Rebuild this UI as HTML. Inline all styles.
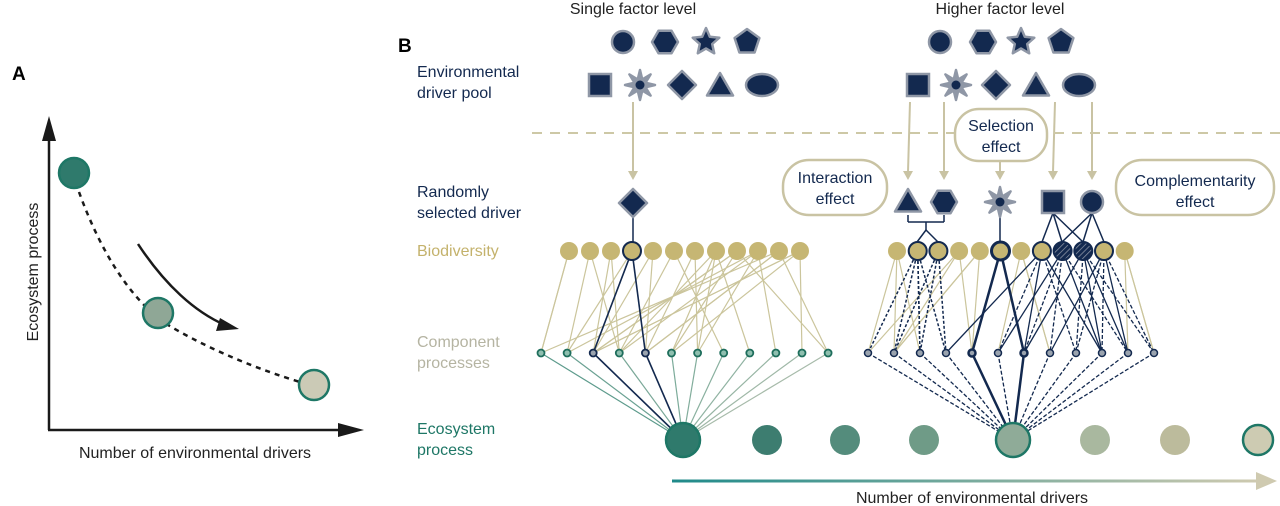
<!DOCTYPE html>
<html><head><meta charset="utf-8"><style>
html,body{margin:0;padding:0;background:#fff;}
svg{display:block;font-family:"Liberation Sans",Arial,sans-serif;}
</style></head><body>
<svg id="s" width="1280" height="506" viewBox="0 0 1280 506" xmlns="http://www.w3.org/2000/svg">
<defs>
<linearGradient id="ga" gradientUnits="userSpaceOnUse" x1="672" y1="0" x2="1260" y2="0"><stop offset="0" stop-color="#1f8a8a"/><stop offset="1" stop-color="#cfcab0"/></linearGradient>
<pattern id="hatch" width="4" height="4" patternUnits="userSpaceOnUse" patternTransform="rotate(45)"><rect width="4" height="4" fill="#13294f"/><line x1="0" y1="0" x2="0" y2="4" stroke="#8f97a6" stroke-width="1.5"/></pattern>
</defs>
<g id="lines"></g>
<!-- Panel A -->
<text x="12" y="80" font-size="19" font-weight="bold">A</text>
<line x1="49" y1="430" x2="49" y2="135" stroke="#1a1a1a" stroke-width="2.5"/>
<polygon points="49,116 42,141 56,141" fill="#1a1a1a"/>
<line x1="48" y1="430" x2="345" y2="430" stroke="#1a1a1a" stroke-width="2.5"/>
<polygon points="364,430 338,423 338,437" fill="#1a1a1a"/>
<path d="M79,192 C100,250 130,300 168,325 C210,350 260,370 300,382" fill="none" stroke="#1a1a1a" stroke-width="2.5" stroke-dasharray="5,5"/>
<path d="M138,244 C165,285 195,312 225,325" fill="none" stroke="#1a1a1a" stroke-width="2.5"/>
<polygon points="239,329 220,318 216,331" fill="#1a1a1a"/>
<circle cx="74" cy="173" r="15" fill="#2f7a6c" stroke="#1e7766" stroke-width="2.5"/>
<circle cx="158" cy="313" r="15" fill="#8fa796" stroke="#1e7766" stroke-width="2.5"/>
<circle cx="314" cy="385" r="15" fill="#cbcab6" stroke="#1e7766" stroke-width="2.5"/>
<text transform="translate(38,272) rotate(-90)" text-anchor="middle" font-size="16" fill="#222">Ecosystem process</text>
<text x="195" y="458" text-anchor="middle" font-size="16" fill="#222">Number of environmental drivers</text>
<!-- Panel B -->
<text x="398" y="52" font-size="19" font-weight="bold">B</text>
<text x="633" y="14" text-anchor="middle" font-size="16" fill="#222">Single factor level</text>
<text x="1000" y="14" text-anchor="middle" font-size="16" fill="#222">Higher factor level</text>
<g font-size="16" fill="#13294f">
<text x="417" y="77">Environmental</text><text x="417" y="98">driver pool</text>
<text x="417" y="197">Randomly</text><text x="417" y="218">selected driver</text>
</g>
<text x="417" y="256" font-size="16" fill="#c4b26c">Biodiversity</text>
<text x="417" y="347" font-size="16" fill="#b5b4a2">Component</text>
<text x="417" y="368" font-size="16" fill="#b5b4a2">processes</text>
<text x="417" y="434" font-size="16" fill="#1e7766">Ecosystem</text>
<text x="417" y="455" font-size="16" fill="#1e7766">process</text>
<line x1="532" y1="133" x2="1280" y2="133" stroke="#cdc8a6" stroke-width="2" stroke-dasharray="10,8"/>
<g id="shapes"></g>
<g fill="#fff" stroke="#c9c3a3" stroke-width="2.5">
<rect x="955" y="109" width="92" height="52" rx="24"/>
<rect x="783" y="160" width="104" height="55" rx="26"/>
<rect x="1116" y="160" width="158" height="55" rx="26"/>
</g>
<g font-size="16" fill="#13294f" text-anchor="middle">
<text x="1001" y="131">Selection</text><text x="1001" y="152">effect</text>
<text x="835" y="183">Interaction</text><text x="835" y="204">effect</text>
<text x="1195" y="186">Complementarity</text><text x="1195" y="207">effect</text>
</g>
<rect x="672" y="479.5" width="588" height="3" fill="url(#ga)"/>
<polygon points="1277,481 1256,472 1256,490" fill="#cfcab0"/>
<text x="972" y="503" text-anchor="middle" font-size="16" fill="#222">Number of environmental drivers</text>
<g id="nodes"></g>
</svg>
<script>
var NS="http://www.w3.org/2000/svg";
function el(p,t,a){var e=document.createElementNS(NS,t);for(var k in a)e.setAttribute(k,a[k]);document.getElementById(p).appendChild(e);return e;}
var N="#13294f",G="#8f97a6";
function poly(p,cx,cy,n,r,rot,r2,fill){var pts=[];var m=r2?2*n:n;for(var i=0;i<m;i++){var a=rot+i*2*Math.PI/m;var rr=(r2&&i%2)?r2:r;pts.push((cx+rr*Math.cos(a)).toFixed(1)+","+(cy+rr*Math.sin(a)).toFixed(1));}el(p,"polygon",{points:pts.join(" "),fill:fill||N,stroke:G,"stroke-width":2.5,"stroke-linejoin":"round"});}
function shape(t,x,y){var p="shapes";
 if(t=="c")el(p,"circle",{cx:x,cy:y,r:11,fill:N,stroke:G,"stroke-width":2.5});
 if(t=="h")poly(p,x,y,6,13,0);
 if(t=="st")poly(p,x,y,5,14,-Math.PI/2,6.5);
 if(t=="p")poly(p,x,y,5,13,-Math.PI/2);
 if(t=="sq")el(p,"rect",{x:x-11,y:y-11,width:22,height:22,fill:N,stroke:G,"stroke-width":2.5});
 if(t=="s8"){poly(p,x,y,8,15,-Math.PI/2,6,G);el(p,"circle",{cx:x,cy:y,r:4.5,fill:N});}
 if(t=="d")poly(p,x,y,4,14,0);
 if(t=="t")poly(p,x,y+3,3,15,-Math.PI/2);
 if(t=="e")el(p,"ellipse",{cx:x,cy:y,rx:16,ry:11,fill:N,stroke:G,"stroke-width":2.5});
}
[["c",623],["h",665],["st",706],["p",747],["c",940],["h",983],["st",1021],["p",1061]].forEach(function(s){shape(s[0],s[1],42)});
[["sq",600],["s8",640],["d",682],["t",720],["e",762],["sq",918],["s8",956],["d",996],["t",1036],["e",1079]].forEach(function(s){shape(s[0],s[1],85)});
function arr(x1,y1,x2,y2){el("lines","line",{x1:x1,y1:y1,x2:x2,y2:y2-8,stroke:"#c9c3a3","stroke-width":2});el("lines","polygon",{points:(x2-5)+","+(y2-9)+" "+(x2+5)+","+(y2-9)+" "+x2+","+y2,fill:"#c9c3a3"});}
arr(633,102,633,180);arr(910,102,908,180);arr(944,102,944,180);arr(1000,162,1000,180);arr(1055,102,1053,180);arr(1092,102,1092,180);
shape("d",633,203);shape("t",908,201);shape("h",944,202);shape("s8",1000,202);shape("sq",1053,202);shape("c",1092,202);
function ln(x1,y1,x2,y2,c,w,d){var a={x1:x1,y1:y1,x2:x2,y2:y2,stroke:c,"stroke-width":w};if(d)a["stroke-dasharray"]=d;el("lines","line",a);}
ln(633,217,633,242,N,1.5);ln(1000,216,1000,242,N,1.5);
ln(908,215,908,222,N,1.5);ln(908,222,944,222,N,1.5);ln(944,215,944,222,N,1.5);ln(926,222,926,230,N,1.5);
ln(926,230,917,242,N,1.5);ln(926,230,938,242,N,1.5);
ln(1053,213,1042,242,N,1.5);ln(1053,213,1062,242,N,1.5);ln(1053,213,1083,242,N,1.5);ln(1092,213,1062,242,N,1.5);ln(1092,213,1083,242,N,1.5);ln(1092,213,1104,242,N,1.5);
var bl=[],br=[],cl=[],cr=[];
for(var i=0;i<12;i++){bl.push(569+i*21);br.push(897+i*20.7);cl.push(541+i*26.1);cr.push(868+i*26);}
var BY=251,CY=353,EY=440;
var seed=7;function rnd(){seed=(seed*9301+49297)%233280;return seed/233280;}
var beige="#cbc59c";
for(var i=0;i<12;i++){var k=i<7?2:4;for(var j=0;j<k;j++){var c=Math.floor(rnd()*12);if(i<7)c=Math.max(0,Math.min(11,i+Math.floor(rnd()*5)-2));ln(bl[i],BY,cl[c],CY,beige,1.2);}}
ln(bl[3],BY,cl[2],CY,N,1.6);ln(bl[3],BY,cl[4],CY,N,1.6);
[0,3,4,6,11].forEach(function(i){for(var j=0;j<3;j++){var c=Math.max(0,Math.min(11,i+Math.floor(rnd()*7)-3));ln(br[i],BY,cr[c],CY,beige,1.2);}});
[[1,0],[1,1],[1,2],[1,3],[2,1],[2,2],[2,3],[1,2]].forEach(function(p){ln(br[p[0]],BY,cr[p[1]],CY,N,1.5,"3,2");});
ln(br[5],BY,cr[4],CY,N,2.5);ln(br[5],BY,cr[6],CY,N,2.5);
[[7,3],[7,5],[7,6],[7,8],[8,5],[8,7],[8,9],[8,10],[9,6],[9,8],[9,9],[9,11],[10,7],[10,9],[10,10],[10,11],[7,9],[8,6],[9,10],[10,8]].forEach(function(p,n){ln(br[p[0]],BY,cr[p[1]],CY,N,1.3,n%2?"4,2":null);});
var tc=["#5d9b8c","#6aa192","#8aa59a","#7aa898","#8aa59a","#7cab9a","#82ad9c","#89b09f","#90b3a2","#97b5a4","#9fb8a7","#a7bbaa"];
for(var i=0;i<12;i++){ln(cl[i],CY,683,EY,i==2||i==4?N:tc[i],i==2||i==4?1.6:1.2);}
for(var i=0;i<12;i++){ln(cr[i],CY,1013,EY,N,i==4||i==6?2.5:1.3,(i!=4&&i!=6)?"4,2":null);}
var bc="#c6b673";
for(var i=0;i<12;i++){var s=i==3;el("nodes","circle",{cx:bl[i],cy:BY,r:9,fill:bc,stroke:s?N:"none","stroke-width":2});}
for(var i=0;i<12;i++){var f=(i==8||i==9)?"url(#hatch)":bc;var st=[1,2,5,7,8,9,10].indexOf(i)>=0;el("nodes","circle",{cx:br[i],cy:BY,r:9,fill:f,stroke:st?N:"none","stroke-width":i==5?3:2});}
for(var i=0;i<12;i++){var d=i==2||i==4;el("nodes","circle",{cx:cl[i],cy:CY,r:3.5,fill:d?"#9aa3ae":"#8fbfaf",stroke:d?N:"#1e6e5c","stroke-width":1.8});}
for(var i=0;i<12;i++){var d=i==4||i==6;el("nodes","circle",{cx:cr[i],cy:CY,r:3.5,fill:"#9aa3ae",stroke:N,"stroke-width":d?2.5:1.5});}
[[683,17,"#2f7a6c",1],[767,15,"#3d7d70",0],[845,15,"#548c7c",0],[924,15,"#6f9b87",0],[1013,17,"#8fab98",1],[1095,15,"#a9b89f",0],[1175,15,"#bcbb9c",0],[1258,15,"#cdcbb2",1]].forEach(function(c){el("nodes","circle",{cx:c[0],cy:EY,r:c[1],fill:c[2],stroke:c[3]?"#1e7766":"none","stroke-width":2.5});});
</script>
</body></html>
